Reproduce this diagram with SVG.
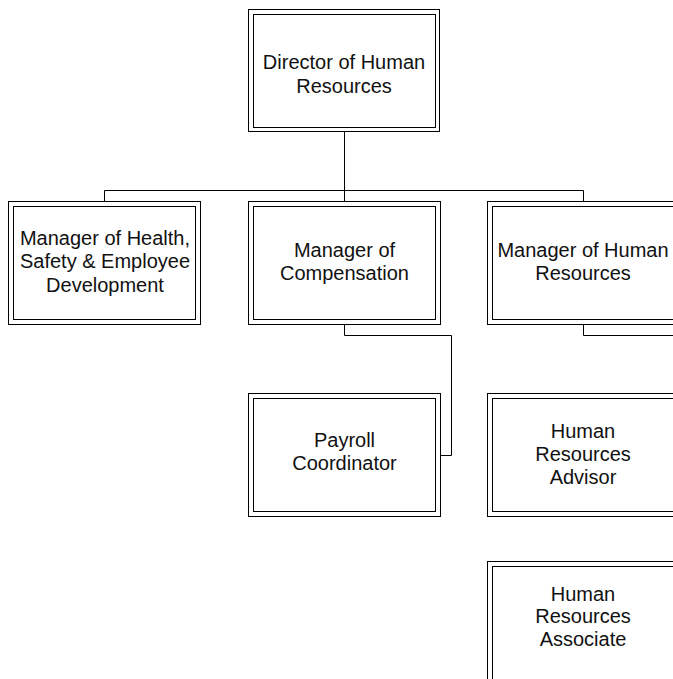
<svg xmlns="http://www.w3.org/2000/svg" width="673" height="679" viewBox="0 0 673 679">
<style>
.o{fill:#fff;stroke:#000;stroke-width:1}
.i{fill:none;stroke:#000;stroke-width:1}
.c{fill:none;stroke:#000;stroke-width:1}
text{font-family:"Liberation Sans",Arial,sans-serif;font-size:20px;fill:#111;text-anchor:middle}
</style>
<rect width="673" height="679" fill="#fff"/>
<g id="connectors">
<path class="c" d="M344.5 131.5V190.5M104.5 201.5V190.5H583.5V201.5M344.5 190.5V201.5"/>
<path class="c" d="M344.5 324.5V335.5H451.5V455.5H440.5"/>
<path class="c" d="M583.5 324.5V335.5H680"/>
</g>
<g id="director">
<rect class="o" x="248.5" y="9.5" width="191" height="122"/>
<rect class="i" x="253.5" y="14.5" width="182" height="113"/>
<text x="344" y="68.5">Director of Human</text>
<text x="344" y="92.5">Resources</text>
</g>
<g id="health">
<rect class="o" x="8.5" y="201.5" width="192" height="123"/>
<rect class="i" x="13.5" y="206.5" width="182" height="113"/>
<text x="105" y="244.5">Manager of Health,</text>
<text x="105" y="268">Safety &amp; Employee</text>
<text x="105" y="291.5">Development</text>
</g>
<g id="compensation">
<rect class="o" x="248.5" y="201.5" width="192" height="123"/>
<rect class="i" x="253.5" y="206.5" width="182" height="113"/>
<text x="344.5" y="256.5">Manager of</text>
<text x="344.5" y="280">Compensation</text>
</g>
<g id="manager-hr">
<rect class="o" x="487.5" y="201.5" width="192" height="123"/>
<rect class="i" x="492.5" y="206.5" width="182" height="113"/>
<text x="583" y="256.5">Manager of Human</text>
<text x="583" y="280">Resources</text>
</g>
<g id="payroll">
<rect class="o" x="248.5" y="393.5" width="192" height="123"/>
<rect class="i" x="253.5" y="398.5" width="182" height="113"/>
<text x="344.5" y="446.5">Payroll</text>
<text x="344.5" y="470">Coordinator</text>
</g>
<g id="advisor">
<rect class="o" x="487.5" y="393.5" width="192" height="123"/>
<rect class="i" x="492.5" y="398.5" width="182" height="113"/>
<text x="583" y="437.5">Human</text>
<text x="583" y="460.5">Resources</text>
<text x="583" y="483.5">Advisor</text>
</g>
<g id="associate">
<rect class="o" x="487.5" y="561.5" width="192" height="123"/>
<rect class="i" x="492.5" y="566.5" width="182" height="113"/>
<text x="583" y="600.5">Human</text>
<text x="583" y="623">Resources</text>
<text x="583" y="645.5">Associate</text>
</g>
</svg>
